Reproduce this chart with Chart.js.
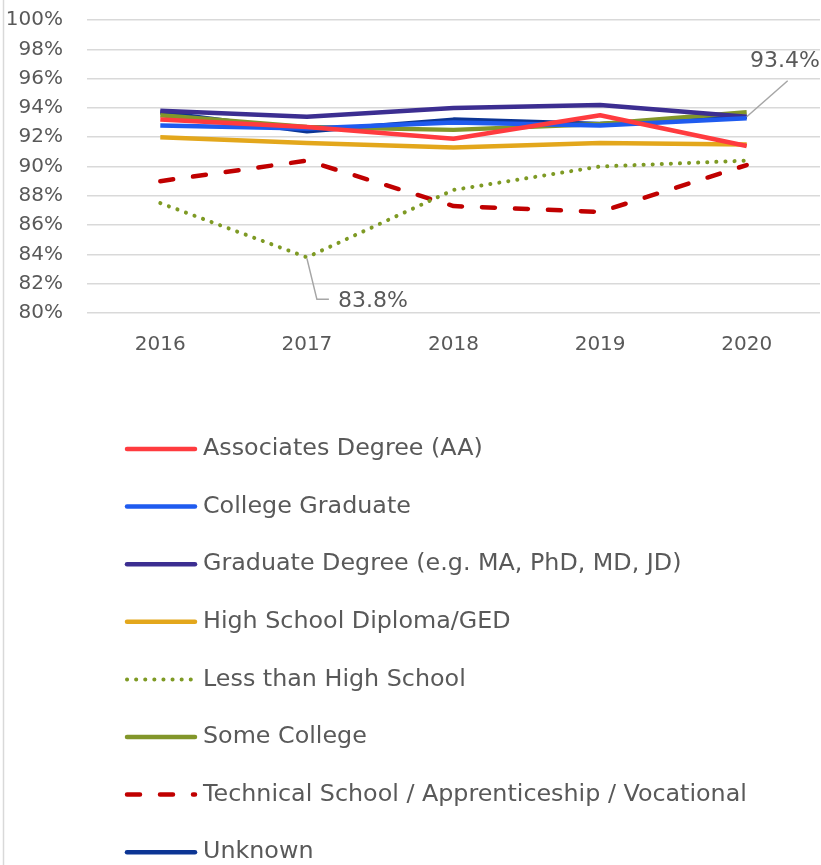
<!DOCTYPE html>
<html>
<head>
<meta charset="utf-8">
<script src="https://cdn.jsdelivr.net/npm/chart.js@4/dist/chart.umd.min.js"></script>
<style>
  html, body { margin: 0; padding: 0; background: #fff; }
  #wrap { position: relative; width: 821px; height: 865px; }
</style>
</head>
<body>
<div id="wrap"><canvas id="chart" width="821" height="865"></canvas></div>
<script>
// Chart data
const years = ['2016', '2017', '2018', '2019', '2020'];
const associates = [93.2, 92.7, 91.9, 93.5, 91.4];
const collegeGrad = [92.8, 92.6, 93.0, 92.8, 93.3];
const graduateDegree = [93.8, 93.4, 94.0, 94.2, 93.4];
const highSchool = [92.0, 91.6, 91.3, 91.6, 91.5];
const lessThanHS = [87.5, 83.8, 88.4, 90.0, 90.4];
const someCollege = [93.5, 92.7, 92.5, 92.9, 93.7];
const technical = [89.0, 90.4, 87.3, 86.9, 90.1];
const unknown = [93.7, 92.4, 93.2, 92.9, 93.4];
const yTicks = [80, 82, 84, 86, 88, 90, 92, 94, 96, 98, 100];

const FONT = "'DejaVu Sans', sans-serif";
const TEXT = '#595959';

function series(label, data, color, dash) {
  return {
    label, data,
    borderColor: color,
    backgroundColor: color,
    borderWidth: dash === 'dot' ? 4 : 4.5,
    borderDash: dash === 'dot' ? [0.1, 9] : dash === 'dash' ? [13, 20] : [],
    borderCapStyle: dash ? 'round' : 'butt',
    borderJoinStyle: 'round',
    pointRadius: 0,
    tension: 0
  };
}

const datasets = [
  series('Associates Degree (AA)', associates, '#FF3B3F'),
  series('College Graduate', collegeGrad, '#1F5BEF'),
  series('Graduate Degree (e.g. MA, PhD, MD, JD)', graduateDegree, '#3C2E91'),
  series('High School Diploma/GED', highSchool, '#E3A71C'),
  series('Less than High School', lessThanHS, '#7E9A24', 'dot'),
  series('Some College', someCollege, '#82962A'),
  series('Technical School / Apprenticeship / Vocational', technical, '#C00000', 'dash'),
  series('Unknown', unknown, '#0C3594')
];

// Legend drawn as a vertical list below the plot
const listLegend = {
  id: 'listLegend',
  afterDraw(chart) {
    const ctx = chart.ctx;
    const x0 = 127, x1 = 195, tx = 203, y0 = 449, rowH = 57.6;
    ctx.save();
    // left border of the chart frame
    ctx.strokeStyle = '#d9d9d9';
    ctx.lineWidth = 1.5;
    ctx.beginPath();
    ctx.moveTo(3.5, 0);
    ctx.lineTo(3.5, 865);
    ctx.stroke();

    chart.data.datasets.forEach((ds, i) => {
      const y = y0 + i * rowH;
      ctx.strokeStyle = ds.borderColor;
      ctx.lineWidth = ds.borderWidth;
      ctx.lineCap = 'round';
      ctx.setLineDash(ds.borderDash);
      ctx.beginPath();
      ctx.moveTo(x0, y);
      ctx.lineTo(x1, y);
      ctx.stroke();
      ctx.setLineDash([]);
      ctx.fillStyle = TEXT;
      ctx.font = '23.8px ' + FONT;
      ctx.textBaseline = 'middle';
      ctx.textAlign = 'left';
      ctx.fillText(ds.label, tx, y);
    });
    ctx.restore();
  }
};

// Callout labels with leader lines
const callouts = {
  id: 'callouts',
  afterDatasetsDraw(chart) {
    const ctx = chart.ctx;
    const xs = chart.scales.x, ys = chart.scales.y;
    ctx.save();
    ctx.strokeStyle = '#a6a6a6';
    ctx.lineWidth = 1.5;
    ctx.fillStyle = TEXT;
    ctx.font = '22px ' + FONT;
    ctx.textBaseline = 'middle';

    // 2017 low point for Less than High School
    let px = xs.getPixelForValue(1), py = ys.getPixelForValue(lessThanHS[1]);
    ctx.beginPath();
    ctx.moveTo(px, py + 1);
    ctx.lineTo(px + 10, py + 42);
    ctx.lineTo(px + 22, py + 42);
    ctx.stroke();
    ctx.textAlign = 'left';
    ctx.fillText(lessThanHS[1].toFixed(1) + '%', px + 31, py + 44);

    // 2020 end point for Unknown
    px = xs.getPixelForValue(4); py = ys.getPixelForValue(unknown[4]);
    ctx.beginPath();
    ctx.moveTo(px, py);
    ctx.lineTo(px + 41, py - 36);
    ctx.stroke();
    ctx.textAlign = 'right';
    ctx.fillText(unknown[4].toFixed(1) + '%', 820, py - 55);
    ctx.restore();
  }
};

new Chart(document.getElementById('chart'), {
  type: 'line',
  data: { labels: years, datasets },
  options: {
    responsive: false,
    animation: false,
    layout: { padding: { top: 20, right: 1, left: 0, bottom: 0 } },
    plugins: {
      legend: { display: false },
      tooltip: { enabled: false }
    },
    scales: {
      x: {
        offset: true,
        grid: { display: false, drawTicks: false },
        border: { display: false },
        ticks: { color: TEXT, font: { family: FONT, size: 20 }, padding: 20 },
        afterFit(scale) { scale.height = 552; }
      },
      y: {
        min: 80,
        max: 100,
        afterBuildTicks(scale) { scale.ticks = yTicks.map(v => ({ value: v })); },
        grid: {
          color: '#d9d9d9',
          lineWidth: 1.5,
          drawTicks: true,
          tickLength: 21,
          tickColor: 'rgba(0,0,0,0)'
        },
        border: { display: false },
        ticks: {
          color: TEXT,
          font: { family: FONT, size: 20 },
          padding: 3,
          callback: v => v + '%'
        },
        afterFit(scale) { scale.width = 87; }
      }
    }
  },
  plugins: [callouts, listLegend]
});
</script>
</body>
</html>
